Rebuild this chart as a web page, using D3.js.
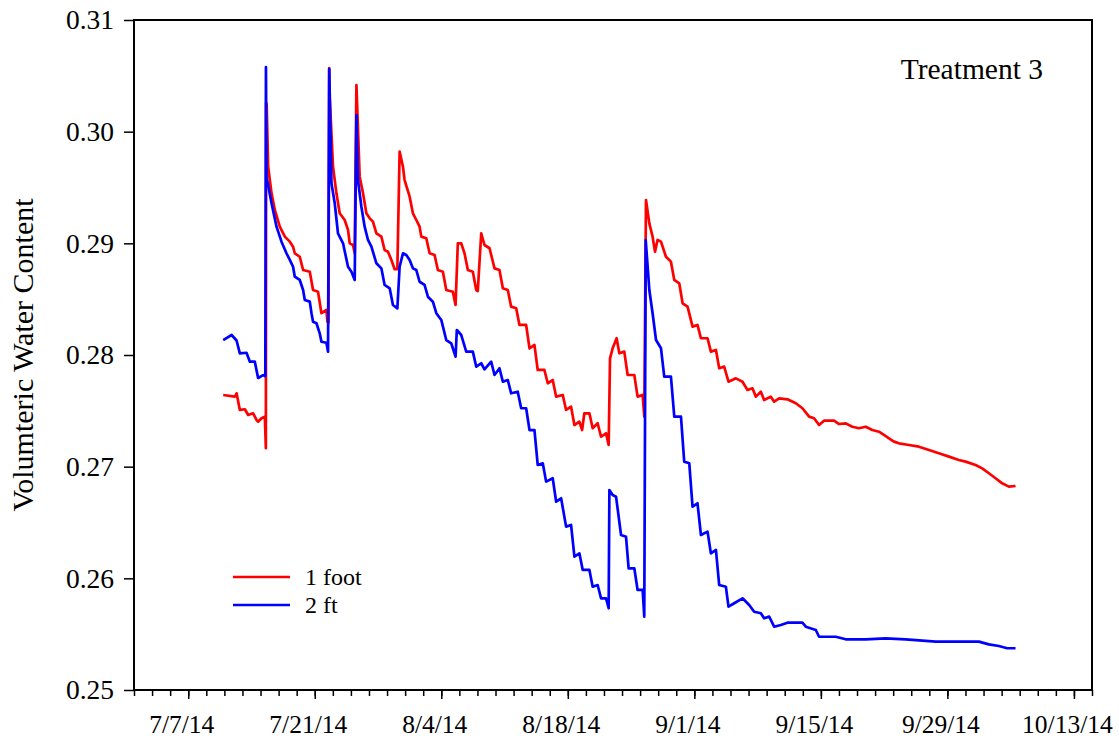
<!DOCTYPE html>
<html><head><meta charset="utf-8">
<script src="https://cdn.jsdelivr.net/npm/d3@7"></script>
<style>body{margin:0;background:#fff}svg{display:block}</style>
</head><body>
<script>
// ---- data (days since 7/1/2014, volumetric water content) ----
const startDate = "2014-07-01";
const endDate = "2014-10-15";
const majorTickLabels = ["7/7/14","7/21/14","8/4/14","8/18/14","9/1/14","9/15/14","9/29/14","10/13/14"];
const yTickValues = [0.25,0.26,0.27,0.28,0.29,0.30,0.31];
const seriesNames = ["1 foot","2 ft"];

const footDays = [9.87,11.16,11.35,11.71,12.27,12.63,13.18,13.56,13.73,14.11,14.48,14.59,14.62,14.68,14.84,15.22,15.58,16.13,16.69,17.24,17.60,17.79,18.34,18.71,19.45,19.81,20.36,20.74,21.29,21.40,21.52,21.60,21.66,22.02,22.40,22.76,23.31,23.68,23.87,24.23,24.42,24.61,24.97,25.34,25.71,26.08,26.44,26.82,27.37,27.73,28.10,28.48,28.84,29.14,29.39,29.76,29.94,30.50,30.86,31.24,31.60,31.79,32.34,32.71,33.26,33.62,34.18,34.55,35.28,35.58,35.83,36.21,36.57,36.94,37.49,37.87,38.04,38.42,38.78,39.34,39.89,40.44,40.81,41.36,41.73,42.29,42.65,43.39,43.76,44.31,44.67,45.41,45.78,46.33,46.71,47.44,47.81,48.36,48.73,49.28,49.58,49.83,50.39,50.75,51.30,51.68,52.23,52.52,52.67,52.96,53.40,53.70,54.25,54.62,55.36,55.72,56.28,56.46,56.65,57.02,57.38,57.65,57.93,58.31,58.86,59.41,59.78,60.33,60.70,61.25,61.80,62.35,62.73,63.46,63.83,64.39,64.75,65.30,65.78,66.60,67.33,67.88,68.43,68.81,69.36,69.72,70.46,70.83,71.38,72.30,73.23,73.96,74.70,75.25,75.80,76.35,77.46,78.01,78.75,79.48,80.22,80.96,81.69,82.43,82.98,83.54,84.09,84.64,85.75,86.85,87.96,89.06,90.17,91.27,92.01,93.12,93.85,94.59,95.33,96.06,96.80,97.54];
const footVals = [0.27642,0.27627,0.27657,0.27508,0.27514,0.27463,0.27478,0.27418,0.27403,0.27433,0.27448,0.27165,0.30260,0.30240,0.29686,0.29448,0.29299,0.29149,0.29060,0.29015,0.28970,0.28911,0.28880,0.28761,0.28746,0.28582,0.28567,0.28374,0.28403,0.28298,0.28290,0.30570,0.30300,0.29686,0.29448,0.29269,0.29209,0.29120,0.29000,0.28985,0.28911,0.30418,0.29597,0.29448,0.29269,0.29224,0.29194,0.29090,0.29060,0.28940,0.28925,0.28851,0.28768,0.28768,0.29821,0.29686,0.29567,0.29418,0.29269,0.29209,0.29149,0.29060,0.29045,0.28911,0.28896,0.28761,0.28746,0.28582,0.28567,0.28448,0.29000,0.29000,0.28911,0.28761,0.28746,0.28582,0.28573,0.29090,0.28985,0.28956,0.28776,0.28761,0.28597,0.28582,0.28433,0.28418,0.28269,0.28269,0.28060,0.28090,0.27866,0.27866,0.27747,0.27776,0.27627,0.27642,0.27508,0.27537,0.27373,0.27403,0.27328,0.27478,0.27478,0.27344,0.27389,0.27268,0.27299,0.27194,0.27970,0.28060,0.28150,0.28015,0.28030,0.27821,0.27821,0.27627,0.27642,0.27448,0.29388,0.29179,0.29060,0.28925,0.29030,0.29015,0.28880,0.28836,0.28672,0.28642,0.28463,0.28433,0.28254,0.28269,0.28150,0.28150,0.28030,0.28045,0.27881,0.27896,0.27761,0.27791,0.27761,0.27687,0.27702,0.27627,0.27671,0.27597,0.27627,0.27582,0.27612,0.27603,0.27568,0.27523,0.27448,0.27433,0.27373,0.27412,0.27412,0.27382,0.27388,0.27358,0.27344,0.27358,0.27328,0.27313,0.27284,0.27254,0.27224,0.27209,0.27194,0.27179,0.27149,0.27120,0.27090,0.27060,0.27045,0.27015,0.26985,0.26941,0.26896,0.26851,0.26821,0.26827];

const ftDays = [9.87,10.80,11.35,11.71,12.45,12.82,13.37,13.73,14.29,14.53,14.60,14.66,15.22,15.77,16.32,16.87,17.24,17.60,17.79,18.34,18.71,18.90,19.45,19.64,19.81,20.19,20.55,20.74,21.29,21.47,21.60,21.85,22.21,22.57,23.13,23.68,24.06,24.42,24.61,24.78,25.16,25.52,25.89,26.27,26.82,27.37,27.73,28.29,28.65,29.14,29.39,29.76,30.13,30.50,30.86,31.24,31.60,32.15,32.52,33.07,33.45,34.00,34.55,35.10,35.58,35.72,36.21,36.76,37.49,37.87,38.42,38.78,39.52,39.89,40.44,40.81,41.36,41.73,42.46,42.84,43.39,43.76,44.31,44.67,45.23,45.60,46.33,46.71,47.26,47.81,48.36,48.73,49.28,49.65,50.39,50.75,51.30,51.68,52.23,52.52,52.60,52.96,53.34,53.89,54.44,54.73,55.36,55.72,56.28,56.46,56.62,57.02,57.38,57.76,58.31,58.67,59.41,59.78,60.52,60.88,61.44,61.80,62.35,62.73,63.46,63.83,64.39,64.75,65.49,65.78,66.41,67.33,68.07,68.62,69.36,69.72,70.28,70.83,71.57,72.30,73.96,74.33,75.44,75.80,77.65,78.75,80.96,83.17,85.38,88.70,93.48,94.59,95.69,96.61,97.54];
const ftVals = [0.28134,0.28179,0.28130,0.28015,0.28020,0.27940,0.27940,0.27794,0.27820,0.27810,0.30579,0.29597,0.29359,0.29149,0.29015,0.28911,0.28851,0.28790,0.28701,0.28672,0.28582,0.28493,0.28478,0.28374,0.28298,0.28284,0.28194,0.28119,0.28110,0.28030,0.30561,0.29538,0.29359,0.29090,0.29000,0.28790,0.28746,0.28672,0.30149,0.29567,0.29328,0.29149,0.29030,0.28970,0.28821,0.28776,0.28627,0.28597,0.28448,0.28418,0.28790,0.28911,0.28896,0.28851,0.28776,0.28761,0.28656,0.28627,0.28522,0.28477,0.28374,0.28314,0.28134,0.28105,0.27985,0.28224,0.28179,0.28030,0.28030,0.27895,0.27926,0.27872,0.27940,0.27821,0.27881,0.27761,0.27776,0.27657,0.27671,0.27523,0.27523,0.27328,0.27328,0.27015,0.27030,0.26866,0.26896,0.26686,0.26717,0.26463,0.26478,0.26194,0.26224,0.26075,0.26075,0.25925,0.25940,0.25821,0.25821,0.25732,0.26791,0.26746,0.26731,0.26388,0.26373,0.26090,0.26090,0.25896,0.25896,0.25657,0.29030,0.28582,0.28374,0.28134,0.28060,0.27806,0.27806,0.27448,0.27448,0.27045,0.27030,0.26642,0.26672,0.26388,0.26418,0.26224,0.26254,0.25940,0.25925,0.25746,0.25777,0.25821,0.25761,0.25701,0.25687,0.25642,0.25657,0.25567,0.25582,0.25603,0.25603,0.25567,0.25537,0.25477,0.25477,0.25454,0.25454,0.25463,0.25454,0.25433,0.25433,0.25409,0.25394,0.25374,0.25374];

// ---- layout ----
const W = 1119, H = 743;
const m = {left:134, right:1092, top:20, bottom:690};
const svg = d3.select("body").append("svg").attr("width", W).attr("height", H);
const font = "'Liberation Serif','Times New Roman',serif";

const parse = d3.timeParse("%Y-%m-%d");
const t0 = parse(startDate), t1 = parse(endDate);
const dayToDate = d => new Date(t0.getTime() + d * 86400000);

const x = d3.scaleTime().domain([t0, t1]).range([m.left, m.right]);
const y = d3.scaleLinear().domain([0.25, 0.31]).range([m.bottom, m.top]);

// minor x ticks every 2 days
const minorTicks = d3.range(0, 107, 2).map(dayToDate);
const majorTicks = majorTickLabels.map(s => { const p = s.split("/"); return new Date(2000 + +p[2], +p[0]-1, +p[1]); });

const gxMinor = svg.append("g").attr("transform", `translate(0,${m.bottom})`)
  .call(d3.axisBottom(x).tickValues(minorTicks).tickSize(6).tickFormat(""));
gxMinor.select(".domain").remove();
gxMinor.selectAll("line").attr("stroke", "#000").attr("stroke-width", 1.5);

const gxMajor = svg.append("g").attr("transform", `translate(0,${m.bottom})`)
  .call(d3.axisBottom(x).tickValues(majorTicks).tickSize(9).tickPadding(16)
        .tickFormat((d, i) => majorTickLabels[i]));
gxMajor.select(".domain").remove();
gxMajor.selectAll("line").attr("stroke", "#000").attr("stroke-width", 1.5);
gxMajor.selectAll("text").attr("font-family", font).attr("font-size", 25.5).attr("fill", "#000").attr("dx", -7);

const gy = svg.append("g").attr("transform", `translate(${m.left},0)`)
  .call(d3.axisLeft(y).tickValues(yTickValues).tickSize(10).tickPadding(10).tickFormat(d3.format(".2f")));
gy.select(".domain").remove();
gy.selectAll("line").attr("stroke", "#000").attr("stroke-width", 1.5);
gy.selectAll("text").attr("font-family", font).attr("font-size", 27.5).attr("fill", "#000");

// frame
svg.append("rect").attr("x", m.left).attr("y", m.top)
  .attr("width", m.right - m.left).attr("height", m.bottom - m.top)
  .attr("fill", "none").attr("stroke", "#000").attr("stroke-width", 2);

// lines
const line = d3.line().x(d => x(dayToDate(d[0]))).y(d => y(d[1]));
const footData = footDays.map((d, i) => [d, footVals[i]]);
const ftData = ftDays.map((d, i) => [d, ftVals[i]]);
svg.append("path").datum(footData).attr("d", line)
  .attr("fill", "none").attr("stroke", "#ff0000").attr("stroke-width", 2.7).attr("stroke-linejoin", "round");
svg.append("path").datum(ftData).attr("d", line)
  .attr("fill", "none").attr("stroke", "#0000ff").attr("stroke-width", 2.7).attr("stroke-linejoin", "round");

// y label
svg.append("text").attr("transform", `translate(33,${(m.top + m.bottom) / 2}) rotate(-90)`)
  .attr("text-anchor", "middle").attr("font-family", font).attr("font-size", 30).text("Volumteric Water Content");

// annotation
svg.append("text").attr("x", 1043).attr("y", 79).attr("text-anchor", "end")
  .attr("font-family", font).attr("font-size", 29.5).text("Treatment 3");

// legend
const colors = ["#ff0000", "#0000ff"];
const lg = svg.append("g");
seriesNames.forEach((n, i) => {
  const yy = 577 + i * 28;
  lg.append("line").attr("x1", 233).attr("x2", 290).attr("y1", yy).attr("y2", yy)
    .attr("stroke", colors[i]).attr("stroke-width", 2.7);
  lg.append("text").attr("x", 305).attr("y", yy + 8).attr("font-family", font).attr("font-size", 24).text(n);
});
</script>
</body></html>
